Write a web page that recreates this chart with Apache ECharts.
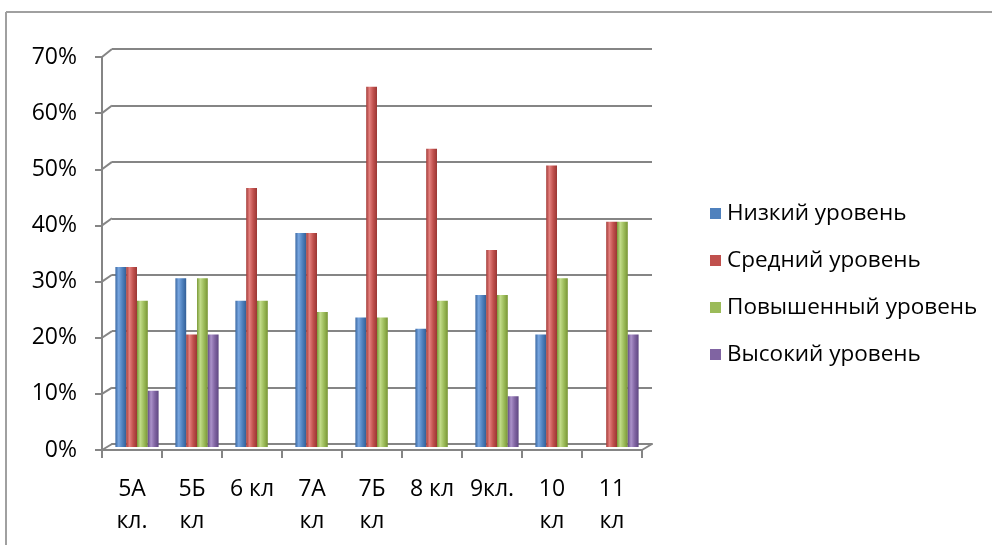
<!DOCTYPE html>
<html><head><meta charset="utf-8">
<script src="https://cdn.jsdelivr.net/npm/echarts@6/dist/echarts.min.js"></script>
<style>html,body{margin:0;padding:0;background:#fff}#c{width:992px;height:545px}</style>
</head><body><div id="c"></div>
<script>
var categories = ['5А\nкл.', '5Б\nкл', '6 кл', '7А\nкл', '7Б\nкл', '8 кл', '9кл.', '10\nкл', '11\nкл'];
var seriesNames = ['Низкий уровень', 'Средний уровень', 'Повышенный уровень', 'Высокий уровень'];
var low    = [32, 30, 26, 38, 23, 21, 27, 20, null];
var medium = [32, 20, 46, 38, 64, 53, 35, 50, 40];
var raised = [26, 30, 26, 24, 23, 26, 27, 30, 40];
var high   = [10, 20, null, null, null, null, 9, null, 20];
var yTicks = [0, 10, 20, 30, 40, 50, 60, 70];

var baseColors = ['#4f81bd','#c0504d','#9bbb59','#8064a2'];
var colors = [
  ['#3a68a3', '#78a6e0', '#4f81bd', '#335f97'],
  ['#a33a37', '#e4807d', '#c0504d', '#9a3633'],
  ['#7a9a38', '#c2dc8a', '#9bbb59', '#789535'],
  ['#624a85', '#ab92ca', '#8064a2', '#5e4781']
];
function grad(c){
  return {type:'linear',x:0,y:0,x2:1,y2:0,colorStops:[
    {offset:0,color:c[0]},{offset:0.3,color:c[1]},{offset:0.65,color:c[2]},{offset:1,color:c[3]}]};
}
var font = 'Open Sans';
var dataSets = [low, medium, raised, high];
var series = dataSets.map(function(d,i){
  return {name:seriesNames[i], type:'bar', xAxisIndex:1, yAxisIndex:1, data:d,
    barGap:'0%', barCategoryGap:'28%', itemStyle:{color:grad(colors[i])}};
});
series.push({type:'bar', xAxisIndex:0, yAxisIndex:0, data:[], silent:true});
series.push({type:'bar', xAxisIndex:2, yAxisIndex:2, data:[], silent:true});

var border = [
  {type:'line', shape:{x1:6,y1:12,x2:992,y2:12}, style:{stroke:'#a0a0a0', lineWidth:2}},
  {type:'line', shape:{x1:6,y1:12,x2:6,y2:545}, style:{stroke:'#a0a0a0', lineWidth:2}}
];

var chart = echarts.init(document.getElementById('c'));
chart.setOption({
  animation:false,
  color:baseColors,
  legend:{orient:'vertical', left:705, top:197, itemGap:24, itemWidth:11, itemHeight:11,
    icon:'rect',
    data:seriesNames.map(function(n,i){return {name:n, itemStyle:{color:baseColors[i]}};}),
    textStyle:{fontFamily:font, fontSize:22.5, color:'#000', padding:[0,0,0,1]}},
  grid:[
    {left:112, right:340, top:49, bottom:101},
    {left:107, right:345, top:53, bottom:98},
    {left:102, right:350, top:57, bottom:95}
  ],
  xAxis:[
    {gridIndex:0, type:'category', data:categories, axisLine:{show:true,lineStyle:{color:'#858585',width:2}}, axisTick:{show:false}, axisLabel:{show:false}},
    {gridIndex:1, type:'category', data:categories, show:false},
    {gridIndex:2, type:'category', data:categories,
      axisLine:{show:true, lineStyle:{color:'#858585', width:2}},
      axisTick:{show:true, length:8, lineStyle:{color:'#858585', width:2}},
      axisLabel:{fontFamily:font, fontSize:23, color:'#000', lineHeight:32, margin:23, interval:0}}
  ],
  yAxis:[
    {gridIndex:0, type:'value', min:0, max:70, interval:10, axisLabel:{show:false}, axisLine:{show:false}, axisTick:{show:false},
      splitLine:{show:true, lineStyle:{color:'#858585', width:2}}},
    {gridIndex:1, type:'value', min:0, max:70, interval:10, show:false, splitLine:{show:false}},
    {gridIndex:2, type:'value', min:0, max:70, interval:10,
      axisLine:{show:true, lineStyle:{color:'#858585', width:2}},
      axisTick:{show:true, length:7, lineStyle:{color:'#858585', width:2}},
      splitLine:{show:false},
      axisLabel:{fontFamily:font, fontSize:23, color:'#000', margin:25,
        formatter:function(v){return v+'%';}}}
  ],
  graphic:border,
  series:series
});
var conn = [];
var fr = chart.getModel().getComponent('grid',2).coordinateSystem.getRect();
var br = chart.getModel().getComponent('grid',0).coordinateSystem.getRect();
yTicks.forEach(function(t){
  var f = chart.convertToPixel({xAxisIndex:2, yAxisIndex:2}, [0, t]);
  var b = chart.convertToPixel({xAxisIndex:0, yAxisIndex:0}, [0, t]);
  conn.push({type:'line', shape:{x1:fr.x, y1:f[1], x2:br.x, y2:b[1]}, style:{stroke:'#858585', lineWidth:2}});
});
conn.push({type:'line', shape:{x1:fr.x+fr.width, y1:fr.y+fr.height, x2:br.x+br.width, y2:br.y+br.height}, style:{stroke:'#858585', lineWidth:2}});
chart.setOption({graphic:border.concat(conn)});
</script></body></html>
